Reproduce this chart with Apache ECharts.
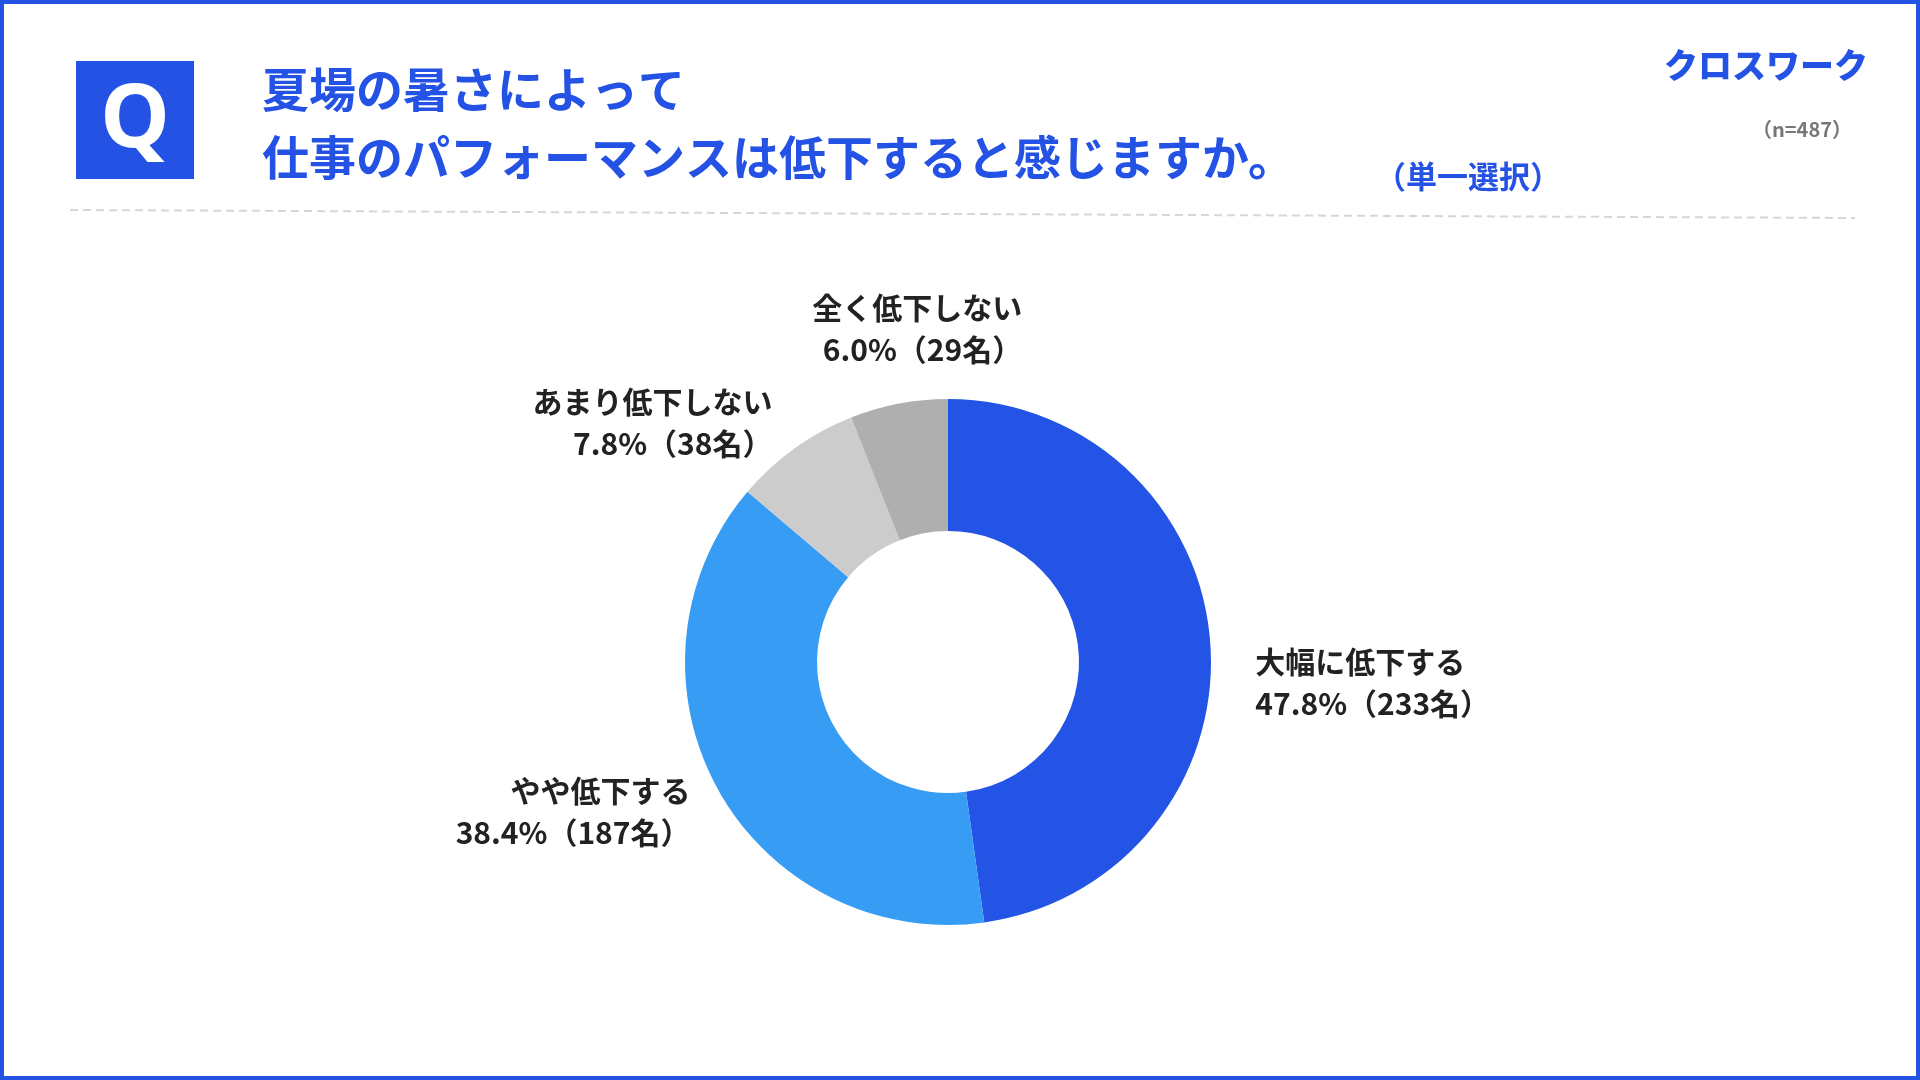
<!DOCTYPE html>
<html><head><meta charset="utf-8">
<script src="https://cdn.jsdelivr.net/npm/echarts@6/dist/echarts.min.js"></script>
<style>html,body{margin:0;padding:0;background:#fff}#main{width:1920px;height:1080px}</style>
</head><body><div id="main"></div>
<script>
// 回答データ
var categories=['大幅に低下する','やや低下する','あまり低下しない','全く低下しない'];
var percents=[47.8,38.4,7.8,6.0];
var counts=[233,187,38,29];
var colors=['#2354e6','#379cf3','#cccccc','#b0afaf'];
// ラベルの微調整
var labelShift=[[-60,42],[73,4],[102,-28],[196,-36]];

var app=echarts.init(document.getElementById('main'));
var font='"Noto Sans CJK JP",sans-serif';
var blue='#2352e5';
var data=[];
for(var i=0;i<categories.length;i++){
  data.push({name:categories[i],value:percents[i],cnt:counts[i],itemStyle:{color:colors[i]}});
}
var option={
  backgroundColor:'#fff',
  animation:false,
  graphic:[
    {type:'rect',shape:{x:2,y:2,width:1916,height:1076},style:{fill:'none',stroke:blue,lineWidth:4}},
    {type:'rect',shape:{x:76,y:61,width:118,height:118},style:{fill:blue}},
    {type:'text',x:135,y:122,style:{text:'Q',fill:'#fff',font:'bold 88px "Open Sans",sans-serif',textAlign:'center',textVerticalAlign:'middle'}},
    {type:'text',x:262,y:89,style:{text:'夏場の暑さによって',fill:blue,font:'bold 47px '+font,textVerticalAlign:'middle'}},
    {type:'text',x:262,y:157,style:{text:'仕事のパフォーマンスは低下すると感じますか。',fill:blue,font:'bold 47px '+font,textVerticalAlign:'middle'}},
    {type:'text',x:1375,y:176,style:{text:'（単一選択）',fill:blue,font:'bold 31px '+font,textVerticalAlign:'middle'}},
    {type:'text',x:1868,y:65,style:{text:'クロスワーク',fill:blue,font:'900 34px '+font,textAlign:'right',textVerticalAlign:'middle'}},
    {type:'text',x:1852,y:129,style:{text:'（n=487）',fill:'#777',font:'bold 20px '+font,textAlign:'right',textVerticalAlign:'middle'}},
    {type:'line',shape:{x1:70,y1:210,x2:1855,y2:218},style:{stroke:'#d6d6d6',lineWidth:2,lineDash:[8,5]}}
  ],
  series:[{
    type:'pie',
    center:[948,662],
    radius:[131,263],
    startAngle:90,
    clockwise:true,
    data:data,
    label:{
      show:true,position:'outside',
      formatter:function(p){return p.name+'\n'+p.value.toFixed(1)+'%（'+p.data.cnt+'名）';},
      color:'#222',fontFamily:font,fontWeight:'bold',fontSize:30,lineHeight:42,align:'center'
    },
    labelLayout:function(p){var s=labelShift[p.dataIndex];return {dx:s[0],dy:s[1]};},
    labelLine:{show:false,length:40,length2:60}
  }]
};
app.setOption(option);
</script></body></html>
